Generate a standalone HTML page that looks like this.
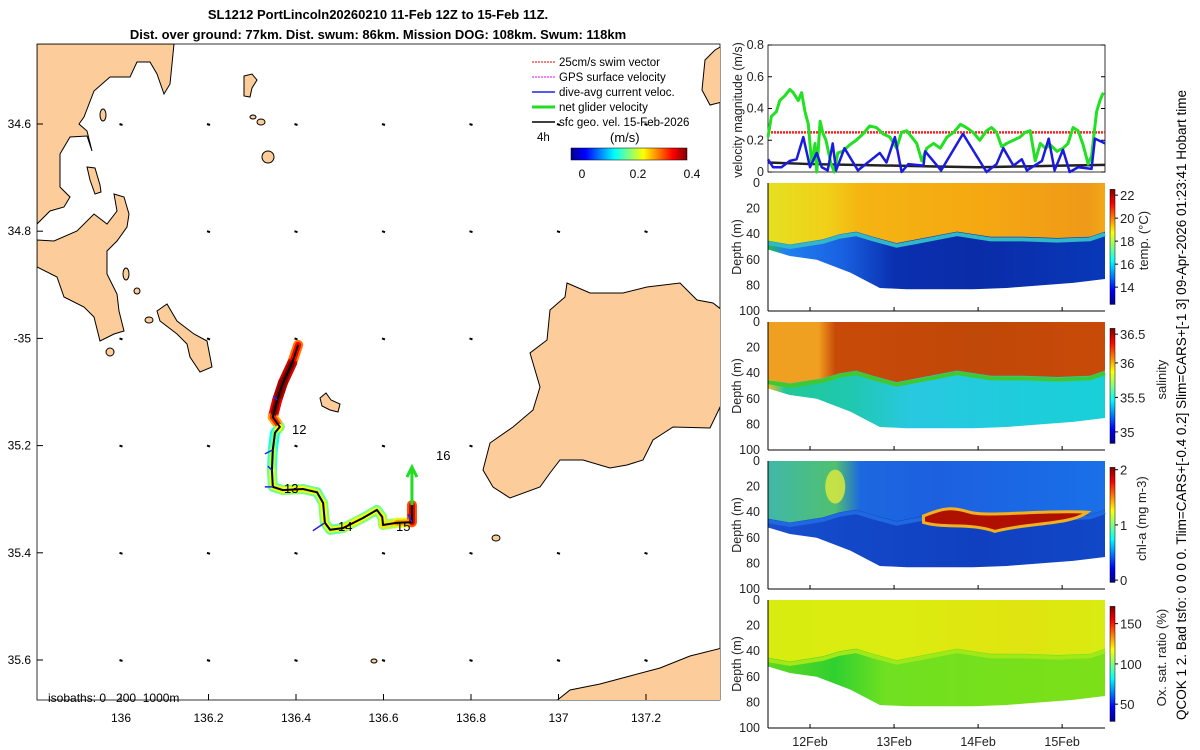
<!DOCTYPE html>
<html><head><meta charset="utf-8"><style>
body{margin:0;background:#fff;}
svg{display:block;font-family:"Liberation Sans",sans-serif;}
</style></head><body>
<svg id="root" width="1200" height="750" viewBox="0 0 1200 750">
<defs>
<clipPath id="mapclip"><rect x="37" y="44" width="683" height="656"/></clipPath>
<linearGradient id="mcb" x1="0" x2="1" y1="0" y2="0">
<stop offset="0" stop-color="#00008f"/><stop offset="0.125" stop-color="#0000ff"/><stop offset="0.375" stop-color="#00ffff"/><stop offset="0.625" stop-color="#ffff00"/><stop offset="0.875" stop-color="#ff0000"/><stop offset="1" stop-color="#800000"/>
</linearGradient>
<linearGradient id="vcb" x1="0" x2="0" y1="1" y2="0">
<stop offset="0" stop-color="#00008f"/><stop offset="0.125" stop-color="#0000ff"/><stop offset="0.375" stop-color="#00ffff"/><stop offset="0.625" stop-color="#ffff00"/><stop offset="0.875" stop-color="#ff0000"/><stop offset="1" stop-color="#800000"/>
</linearGradient>
</defs>

<text x="378" y="19" text-anchor="middle" font-size="13" font-weight="bold">SL1212 PortLincoln20260210 11-Feb 12Z to 15-Feb 11Z.</text>
<text x="378" y="39" text-anchor="middle" font-size="13" font-weight="bold">Dist. over ground: 77km. Dist. swum: 86km. Mission DOG: 108km. Swum: 118km</text>

<g id="map">
<rect x="37" y="44" width="683" height="656" fill="#fff" stroke="#000" stroke-width="0.8"/>
<g id="vecdots" clip-path="url(#mapclip)"></g>
<g clip-path="url(#mapclip)" fill="#fccc9a" stroke="#000" stroke-width="1">
<path d="M37,44 L174,44 L172,64 L170,84 L164,94 L157,74 L150,62 L137,62 L130,77 L110,77 L94,91 L84,117 L79,124 L87,131 L92,151 L87,136 L70,137 L60,154 L60,187 L70,197 L64,207 L50,211 L37,224 Z"/>
<path d="M37,240 L54,241 L77,231 L94,214 L107,224 L117,211 L114,194 L124,197 L129,214 L127,227 L117,241 L107,251 L107,274 L117,294 L119,311 L124,331 L114,334 L100,341 L94,317 L84,307 L64,297 L57,277 L37,267 Z"/>
<path d="M157,311 L167,304 L177,321 L194,334 L207,341 L212,367 L200,372 L190,357 L187,344 L177,334 L160,321 Z"/>
<path d="M87,167 L95,168 L100,185 L101,192 L95,194 L90,180 Z"/>
<path d="M244,76 L252,74 L257,80 L252,88 L250,97 L244,96 Z"/>
<ellipse cx="268" cy="157" rx="6" ry="6"/>
<ellipse cx="103" cy="115" rx="3" ry="6"/>
<ellipse cx="126" cy="274" rx="3" ry="6"/>
<ellipse cx="137" cy="291" rx="3" ry="3"/>
<ellipse cx="149" cy="320" rx="4" ry="3"/>
<ellipse cx="110" cy="352" rx="4" ry="4"/>
<ellipse cx="253" cy="117" rx="3" ry="2"/>
<ellipse cx="261" cy="122" rx="4" ry="3"/>
<path d="M567,283 L590,293 L623,293 L647,287 L680,283 L697,300 L713,303 L722,310 L722,403 L710,428 L673,427 L653,440 L643,460 L627,465 L610,468 L583,460 L560,460 L550,473 L540,487 L510,498 L493,487 L483,470 L490,443 L513,427 L533,410 L540,387 L530,353 L547,340 L550,310 L565,297 Z"/>
<path d="M555,702 L570,690 L600,684 L630,676 L660,668 L690,656 L722,648 L722,702 Z"/>
<path d="M705,60 L715,50 L722,46 L722,102 L710,105 L702,90 Z"/>
<path d="M320,398 L326,393 L331,400 L340,404 L338,412 L330,410 L322,406 Z"/>
<ellipse cx="496" cy="538" rx="4" ry="3"/>
<ellipse cx="374" cy="661" rx="3" ry="2"/>
</g>
<g id="track"></g>
<text x="292" y="434" font-size="13">12</text>
<text x="284" y="493" font-size="13">13</text>
<text x="338" y="531" font-size="13">14</text>
<text x="396" y="531" font-size="13">15</text>
<text x="436" y="460" font-size="13">16</text>
<text x="48" y="702" font-size="12" style="white-space:pre">isobaths: 0   200  1000m</text>
<g id="mapticks" font-size="12"></g>
<g font-size="11.5">
<line x1="532" y1="62" x2="555" y2="62" stroke="#e00" stroke-dasharray="2,1"/>
<text x="559" y="66">25cm/s swim vector</text>
<line x1="532" y1="77" x2="555" y2="77" stroke="#e0e" stroke-dasharray="2,1"/>
<text x="559" y="81">GPS surface velocity</text>
<line x1="532" y1="92" x2="555" y2="92" stroke="#22e" stroke-width="1.5"/>
<text x="559" y="96">dive-avg current veloc.</text>
<line x1="532" y1="107" x2="555" y2="107" stroke="#2d2" stroke-width="3"/>
<text x="559" y="111">net glider velocity</text>
<line x1="532" y1="122" x2="555" y2="122" stroke="#000" stroke-width="1.5"/>
<text x="559" y="126">sfc geo. vel. 15-Feb-2026</text>
<text x="537" y="141">4h</text>
<text x="610" y="142" font-size="13">(m/s)</text>
<rect x="571" y="148" width="116" height="12" fill="url(#mcb)" stroke="#000" stroke-width="0.5"/>
<text x="582" y="178" text-anchor="middle" font-size="12">0</text>
<text x="638" y="178" text-anchor="middle" font-size="12">0.2</text>
<text x="692" y="178" text-anchor="middle" font-size="12">0.4</text>
</g>
</g>

<g id="vel"></g>
<g id="sect"></g>

<text transform="translate(1186,720) rotate(-90)" font-size="13.5">QCOK 1  2. Bad tsfo: 0  0  0  0. Tlim=CARS+[-0.4 0.2] Slim=CARS+[-1 3] 09-Apr-2026 01:23:41 Hobart time</text>
</svg>
<script>
// ---- velocity panel data ----
const gT=[11.50,11.54,11.60,11.64,11.70,11.76,11.80,11.86,11.90,11.94,11.98,12.02,12.06,12.08,12.12,12.15,12.19,12.25,12.29,12.33,12.39,12.47,12.55,12.63,12.71,12.79,12.87,12.95,13.03,13.09,13.15,13.21,13.27,13.33,13.39,13.47,13.55,13.63,13.71,13.79,13.86,13.94,14.02,14.10,14.16,14.22,14.28,14.34,14.42,14.50,14.56,14.62,14.68,14.74,14.80,14.86,14.94,15.01,15.07,15.13,15.19,15.25,15.31,15.35,15.41,15.45,15.49];
const gV=[0.22,0.35,0.38,0.45,0.48,0.52,0.50,0.45,0.50,0.38,0.30,0.05,0.18,0.0,0.32,0.25,0.20,0.05,0.0,0.12,0.13,0.17,0.20,0.24,0.29,0.28,0.24,0.22,0.15,0.25,0.26,0.22,0.18,0.07,0.15,0.18,0.15,0.22,0.25,0.30,0.28,0.25,0.20,0.26,0.28,0.25,0.16,0.18,0.20,0.22,0.25,0.26,0.07,0.18,0.15,0.17,0.13,0.15,0.18,0.28,0.26,0.17,0.05,0.10,0.38,0.45,0.50];
const bT=[11.50,11.56,11.66,11.76,11.84,11.92,12.00,12.08,12.14,12.21,12.27,12.31,12.41,12.57,12.83,12.91,13.01,13.09,13.17,13.35,13.37,13.56,13.82,14.10,14.22,14.30,14.42,14.52,14.58,14.76,14.84,14.91,15.01,15.09,15.19,15.35,15.39,15.51];
const bV=[0.08,0.03,0.03,0.07,0.08,0.22,0.03,0.12,0.03,0.01,0.18,0.01,0.15,0.01,0.12,0.06,0.22,0.0,0.05,0.04,0.13,0.01,0.24,0.0,0.05,0.15,0.04,0.08,0.01,0.07,0.21,0.01,0.14,0.0,0.03,0.02,0.21,0.18];
const kT=[11.5,12.0,12.5,13.0,13.5,14.0,14.5,15.0,15.51];
const kV=[0.06,0.05,0.045,0.04,0.035,0.03,0.035,0.04,0.045];
const swimV=0.25;
const velTicks=[0,0.2,0.4,0.6,0.8];
const dateTicks=[12,13,14,15];
const dateLabels=["12Feb","13Feb","14Feb","15Feb"];
// ---- section data ----
const secT=[11.5,11.76,12.08,12.48,12.83,13.15,13.55,13.94,14.34,14.74,15.13,15.51];
const bottomDepth=[52,57,60,70,82,83,83,83,82,80,78,75];
const mlT=[11.5,11.76,12.15,12.35,12.55,12.75,13.03,13.35,13.75,14.15,14.54,14.94,15.33,15.51];
const mlDepth=[45,48,44,40,38,42,47,43,38,42,42,43,42,38];
const depthTicks=[0,20,40,60,80,100];
// ---- map track data ----
const trkLon=[136.405,136.391,136.370,136.357,136.347,136.363,136.352,136.347,136.345,136.347,136.370,136.416,136.448,136.462,136.466,136.478,136.507,136.553,136.585,136.597,136.599,136.631,136.665,136.665];
const trkLat=[-35.012,-35.046,-35.083,-35.115,-35.147,-35.165,-35.176,-35.208,-35.246,-35.277,-35.283,-35.281,-35.287,-35.307,-35.344,-35.357,-35.354,-35.335,-35.320,-35.333,-35.348,-35.344,-35.343,-35.311];
const trkSpd=[0.32,0.42,0.45,0.45,0.40,0.30,0.22,0.2,0.26,0.24,0.26,0.27,0.24,0.25,0.27,0.24,0.26,0.27,0.24,0.26,0.27,0.28,0.32,0.45];
const lonTicks=[136,136.2,136.4,136.6,136.8,137,137.2];
const latTicks=[-34.6,-34.8,-35,-35.2,-35.4,-35.6];
const latLabels=["34.6","34.8","-35","35.2","35.4","35.6"];

const NS="http://www.w3.org/2000/svg";
function mk(tag,attrs,parent){const e=document.createElementNS(NS,tag);for(const k in attrs)e.setAttribute(k,attrs[k]);parent.appendChild(e);return e;}
function jet(v){v=Math.max(0,Math.min(1,v));const r=Math.max(0,Math.min(1,1.5-Math.abs(4*v-3))),g=Math.max(0,Math.min(1,1.5-Math.abs(4*v-2))),b=Math.max(0,Math.min(1,1.5-Math.abs(4*v-1)));return `rgb(${Math.round(r*255)},${Math.round(g*255)},${Math.round(b*255)})`;}

// map axes
const mx=lon=>121+(lon-136)*437.5;
const my=lat=>124+(-lat-34.6)*536;
const vd=document.getElementById('vecdots');
for(let lo=135.8;lo<=137.4;lo+=0.2){for(let la=-34.4;la>=-35.8;la-=0.2){
  const d=mk('line',{x1:mx(lo)-1.5,y1:my(la),x2:mx(lo)+1.5,y2:my(la)+1,stroke:'#000','stroke-width':2},vd);
  
  
}}
const tk=document.getElementById('mapticks');
lonTicks.forEach(l=>{
  mk('line',{x1:mx(l),y1:700,x2:mx(l),y2:694,stroke:'#000'},tk);
  const t=mk('text',{x:mx(l),y:722,'text-anchor':'middle'},tk);t.textContent=String(l);
  
  
});
latTicks.forEach((l,i)=>{
  mk('line',{x1:37,y1:my(l),x2:43,y2:my(l),stroke:'#000'},tk);
  const t=mk('text',{x:31,y:my(l)+4,'text-anchor':'end'},tk);t.textContent=latLabels[i];
  
  
});
const tr=document.getElementById('track');
for(let i=0;i<trkLon.length-1;i++){
  const s=mk('line',{x1:mx(trkLon[i]),y1:my(trkLat[i]),x2:mx(trkLon[i+1]),y2:my(trkLat[i+1]),stroke:jet((trkSpd[i]+trkSpd[i+1])/2/0.42-0.12),'stroke-width':10,'stroke-linecap':'round'},tr);
  
  
}
for(let i=0;i<trkLon.length-1;i++){
  const s=mk('line',{x1:mx(trkLon[i]),y1:my(trkLat[i]),x2:mx(trkLon[i+1]),y2:my(trkLat[i+1]),stroke:jet((trkSpd[i]+trkSpd[i+1])/2/0.42),'stroke-width':6,'stroke-linecap':'round'},tr);
  
  
}
const tp=mk('polyline',{points:trkLon.map((l,i)=>mx(l)+','+my(trkLat[i])).join(' '),fill:'none',stroke:'#000','stroke-width':2},tr);


const lastX=mx(trkLon[trkLon.length-1]),lastY=my(trkLat[trkLat.length-1]);
const ga=mk('path',{d:`M${lastX},${lastY} L${lastX},${lastY-36} M${lastX-5},${lastY-28} L${lastX},${lastY-38} L${lastX+5},${lastY-28}`,stroke:'#2d2','stroke-width':3,fill:'none'},tr);


[[3,-1,-1],[7,-2,1],[8,-1,-1],[14,-3,2],[22,-1,-2],[9,-2,0]].forEach(a=>{
  const x=mx(trkLon[a[0]]),y=my(trkLat[a[0]]);
  const b=mk('line',{x1:x,y1:y,x2:x+a[1]*4,y2:y+a[2]*4,stroke:'#22e','stroke-width':1.5},tr);
  
  
});

// velocity panel
const X0=768,X1=1105,tmin=11.5,tmax=15.51;
const tx=t=>X0+(t-tmin)/(tmax-tmin)*(X1-X0);
const vy=v=>172-v/0.8*127;
const vel=document.getElementById('vel');
mk('rect',{x:X0,y:45,width:X1-X0,height:127,fill:'#fff',stroke:'#000','stroke-width':0.8},vel);
velTicks.forEach(v=>{
  mk('line',{x1:X0,y1:vy(v),x2:X0+4,y2:vy(v),stroke:'#000'},vel);
  mk('line',{x1:X1,y1:vy(v),x2:X1-4,y2:vy(v),stroke:'#000'},vel);
  const t=mk('text',{x:X0-4,y:vy(v)+4,'text-anchor':'end','font-size':12.5,fill:'#222'},vel);t.textContent=String(v);
  
  
});
const yl=mk('text',{transform:'translate(742,110) rotate(-90)','text-anchor':'middle','font-size':12.5,fill:'#222'},vel);yl.textContent='velocity magnitude (m/s)';


const sw=mk('line',{x1:X0,y1:vy(swimV),x2:X1,y2:vy(swimV),stroke:'#f22','stroke-width':2.5,'stroke-dasharray':'2,1'},vel);


function pl(T,V,c,w,name){const p=mk('polyline',{points:T.map((t,i)=>tx(t)+','+vy(V[i])).join(' '),fill:'none',stroke:c,'stroke-width':w,'stroke-linejoin':'round'},vel);}
pl(kT,kV,'#222',2.5,'geo-velocity-line');
pl(gT,gV,'#22e022',3,'net-glider-velocity-line');
pl(bT,bV,'#1a1ae0',2.5,'dive-avg-current-line');

// sections
const sect=document.getElementById('sect');
const panels=[
 {top:183,name:'temperature-section',up:[[11.5,'#e6e020'],[12.2,'#f0d018'],[12.6,'#f5b412'],[14,'#f5a812'],[15.3,'#ef9a18'],[15.51,'#f2a818']],lo:[[11.5,'#20c040'],[11.7,'#2080f0'],[12.4,'#1860e0'],[13,'#0a30b0'],[14,'#0a2ca8'],[15.51,'#0838b8']],band:'#30b8c8',cb:[['22',0.05],['20',0.25],['18',0.45],['16',0.65],['14',0.85]],lab:'temp. (°C)',lx:1148},
 {top:322,name:'salinity-section',up:[[11.5,'#f0a020'],[12.1,'#f0a020'],[12.3,'#c84a08'],[14,'#c04808'],[15.51,'#c84a08']],lo:[[11.5,'#f0c020'],[11.7,'#20c898'],[12.5,'#20c8b0'],[13.2,'#28c8e0'],[15.51,'#18d0d8']],band:'#40c830',cb:[['36.5',0.05],['36',0.3],['35.5',0.6],['35',0.9]],lab:'salinity',lx:1166},
 {top:461,name:'chlorophyll-section',up:[[11.5,'#40b8a8'],[12.3,'#50c070'],[12.6,'#1c68e0'],[13.5,'#1c60e0'],[15.51,'#1a70e8']],lo:[[11.5,'#1850d0'],[12.5,'#1248c8'],[14,'#1040c0'],[15.51,'#1048c8']],band:'#2068e0',cb:[['2',0.02],['1',0.5],['0',0.98]],lab:'chl-a (mg m-3)',lx:1146},
 {top:600,name:'oxygen-section',up:[[11.5,'#d8ec10'],[13,'#dcec10'],[14.5,'#e0e410'],[15.51,'#d8ec10']],lo:[[11.5,'#60d820'],[12.3,'#30d030'],[12.9,'#70e020'],[15.51,'#7ce018']],band:'#a0e818',cb:[['150',0.15],['100',0.5],['50',0.85]],lab:'Ox. sat. ratio (%)',lx:1166}
];
panels.forEach((P,pi)=>{
  const g=mk('g',{},sect);
  
  
  const dy=d=>P.top+d*1.28;
  const gid='gu'+pi,lid='gl'+pi;
  const defs=mk('defs',{},g);
  const gu=mk('linearGradient',{id:gid,x1:X0,x2:X1,y1:0,y2:0,gradientUnits:'userSpaceOnUse'},defs);
  P.up.forEach(s=>mk('stop',{offset:(s[0]-tmin)/(tmax-tmin),'stop-color':s[1]},gu));
  const gl=mk('linearGradient',{id:lid,x1:X0,x2:X1,y1:0,y2:0,gradientUnits:'userSpaceOnUse'},defs);
  P.lo.forEach(s=>mk('stop',{offset:(s[0]-tmin)/(tmax-tmin),'stop-color':s[1]},gl));
  const bot=secT.map((t,i)=>tx(t)+','+dy(bottomDepth[i])).reverse().join(' ');
  const lower=mk('polygon',{points:`${X0},${dy(0)} ${X1},${dy(0)} `+bot,fill:`url(#${lid})`},g);
  
  
  const ml=mlT.map((t,i)=>tx(t)+','+dy(mlDepth[i]));
  const upper=mk('polygon',{points:`${X0},${dy(0)} ${X1},${dy(0)} `+ml.slice().reverse().join(' '),fill:`url(#${gid})`},g);
  
  
  const band=mk('polyline',{points:mlT.map((t,i)=>tx(t)+','+dy(mlDepth[i]+2)).join(' '),fill:'none',stroke:P.band,'stroke-width':4},g);
  
  
  if(pi===2){
    const bl=mk('path',{d:`M${tx(13.35)},${dy(43)} C${tx(13.6)},${dy(36)} ${tx(13.7)},${dy(36)} ${tx(13.9)},${dy(40)} S${tx(14.8)},${dy(38)} ${tx(15.3)},${dy(40)} C${tx(15.1)},${dy(50)} ${tx(14.6)},${dy(48)} ${tx(14.2)},${dy(55)} C${tx(13.9)},${dy(48)} ${tx(13.6)},${dy(53)} ${tx(13.35)},${dy(48)} Z`,fill:'#b01000',stroke:'#f0b020','stroke-width':3},g);
    
    
    const yb=mk('ellipse',{cx:tx(12.3),cy:dy(20),rx:10,ry:17,fill:'#d8e840',opacity:0.85},g);
    
    
  }
  mk('line',{x1:X0,y1:dy(100),x2:X1,y2:dy(100),stroke:'#000','stroke-width':1},g);
  mk('line',{x1:X0,y1:dy(0),x2:X0,y2:dy(100),stroke:'#000','stroke-width':1},g);
  depthTicks.forEach(d=>{
    const t=mk('text',{x:X0-8,y:dy(d)+4,'text-anchor':'end','font-size':12.5,fill:'#222'},g);t.textContent=String(d);
    
    
  });
  dateTicks.forEach(d=>mk('line',{x1:tx(d),y1:dy(100),x2:tx(d),y2:dy(100)-4,stroke:'#000'},g));
  const ylab=mk('text',{transform:`translate(741,${dy(50)}) rotate(-90)`,'text-anchor':'middle','font-size':12.5,fill:'#222'},g);ylab.textContent='Depth (m)';
  
  
  const cb=mk('rect',{x:1110,y:dy(5),width:5,height:115,fill:'url(#vcb)',stroke:'#000','stroke-width':0.5},g);
  
  
  P.cb.forEach(c=>{
    const yy=dy(5)+115*c[1];
    mk('line',{x1:1115,y1:yy,x2:1118,y2:yy,stroke:'#000'},g);
    const t=mk('text',{x:1120,y:yy+5,'font-size':13,fill:'#222'},g);t.textContent=c[0];
    
    
  });
  const cl=mk('text',{transform:`translate(${P.lx},${dy(45)}) rotate(-90)`,'text-anchor':'middle','font-size':13,fill:'#222'},g);cl.textContent=P.lab;
  
  
});
dateTicks.forEach((d,i)=>{
  const t=mk('text',{x:tx(d),y:746,'text-anchor':'middle','font-size':12.5,fill:'#222'},sect);t.textContent=dateLabels[i];
  
  
});
</script>
</body></html>
